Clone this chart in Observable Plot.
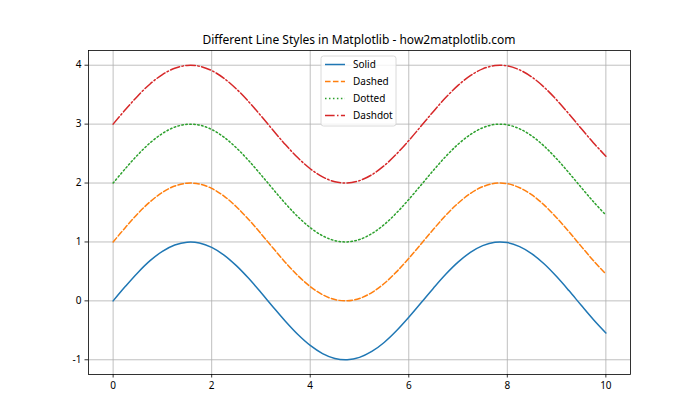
<!DOCTYPE html>
<html>
<head>
<meta charset="utf-8">
<script src="https://cdn.jsdelivr.net/npm/d3@7"></script>
<script src="https://cdn.jsdelivr.net/npm/@observablehq/plot@0.6"></script>
<style>
  html, body { margin: 0; padding: 0; background: #fff; }
  #chart { width: 700px; height: 420px; }
</style>
</head>
<body>
<div id="chart"></div>
<script>
// Data
const xs = [0, 0.25, 0.5, 0.75, 1, 1.25, 1.5, 1.75, 2, 2.25, 2.5, 2.75, 3, 3.25, 3.5, 3.75, 4, 4.25, 4.5, 4.75, 5,
            5.25, 5.5, 5.75, 6, 6.25, 6.5, 6.75, 7, 7.25, 7.5, 7.75, 8, 8.25, 8.5, 8.75, 9, 9.25, 9.5, 9.75, 10];
const solid   = [0.000, 0.247, 0.479, 0.682, 0.841, 0.949, 0.997, 0.984, 0.909, 0.778, 0.598, 0.382, 0.141, -0.108, -0.351, -0.572, -0.757, -0.895, -0.978, -0.999, -0.959,
                 -0.859, -0.706, -0.508, -0.279, -0.033, 0.215, 0.451, 0.657, 0.823, 0.938, 0.995, 0.989, 0.920, 0.798, 0.625, 0.412, 0.174, -0.075, -0.319, -0.544];
const dashed  = [1.000, 1.247, 1.479, 1.682, 1.841, 1.949, 1.997, 1.984, 1.909, 1.778, 1.598, 1.382, 1.141, 0.892, 0.649, 0.428, 0.243, 0.105, 0.022, 0.001, 0.041,
                 0.141, 0.294, 0.492, 0.721, 0.967, 1.215, 1.451, 1.657, 1.823, 1.938, 1.995, 1.989, 1.920, 1.798, 1.625, 1.412, 1.174, 0.925, 0.681, 0.456];
const dotted  = [2.000, 2.247, 2.479, 2.682, 2.841, 2.949, 2.997, 2.984, 2.909, 2.778, 2.598, 2.382, 2.141, 1.892, 1.649, 1.428, 1.243, 1.105, 1.022, 1.001, 1.041,
                 1.141, 1.294, 1.492, 1.721, 1.967, 2.215, 2.451, 2.657, 2.823, 2.938, 2.995, 2.989, 2.920, 2.798, 2.625, 2.412, 2.174, 1.925, 1.681, 1.456];
const dashdot = [3.000, 3.247, 3.479, 3.682, 3.841, 3.949, 3.997, 3.984, 3.909, 3.778, 3.598, 3.382, 3.141, 2.892, 2.649, 2.428, 2.243, 2.105, 2.022, 2.001, 2.041,
                 2.141, 2.294, 2.492, 2.721, 2.967, 3.215, 3.451, 3.657, 3.823, 3.938, 3.995, 3.989, 3.920, 3.798, 3.625, 3.412, 3.174, 2.925, 2.681, 2.456];
const seriesNames = ["Solid", "Dashed", "Dotted", "Dashdot"];
const seriesColors = ["#1f77b4", "#ff7f0e", "#2ca02c", "#d62728"];
const seriesDash = [null, "5.55,2.4", "1.5,2.475", "9.6,2.4,1.5,2.4"];
const xTicks = [0, 2, 4, 6, 8, 10];
const yTicks = [-1, 0, 1, 2, 3, 4];
const titleText = "Different Line Styles in Matplotlib - how2matplotlib.com";

const seriesValues = [solid, dashed, dotted, dashdot];
const FONT = "'Noto Sans', sans-serif";

const marginLeft = 88, marginRight = 70, marginTop = 50, marginBottom = 46;

const lineMarks = seriesValues.map((vals, i) =>
  Plot.line(xs.map((x, j) => ({x, y: vals[j]})), {
    x: "x", y: "y", stroke: seriesColors[i], strokeWidth: 1.5,
    strokeDasharray: seriesDash[i] || undefined, curve: "catmull-rom"
  })
);

const chart = Plot.plot({
  width: 700, height: 420,
  marginLeft, marginRight, marginTop, marginBottom,
  style: {fontFamily: FONT, fontSize: "10px", color: "#000", background: "#fff"},
  x: {domain: [-0.5, 10.5]},
  y: {domain: [-1.25, 4.25]},
  marks: [
    Plot.gridX(xTicks, {stroke: "#b0b0b0", strokeOpacity: 1, strokeWidth: 0.8}),
    Plot.gridY(yTicks, {stroke: "#b0b0b0", strokeOpacity: 1, strokeWidth: 0.8}),
    ...lineMarks,
    Plot.frame({stroke: "#000", strokeWidth: 0.8}),
    Plot.axisX(xTicks, {tickSize: 3.5, tickPadding: 3.5, stroke: "#000", strokeWidth: 0.8, label: null, fill: "#000", fontSize: 10}),
    Plot.axisY(yTicks, {tickSize: 3.5, tickPadding: 3.5, stroke: "#000", strokeWidth: 0.8, label: null, fill: "#000", fontSize: 10, tickFormat: d => d < 0 ? "-" + Math.abs(d) : String(d)})
  ]
});

document.getElementById("chart").appendChild(chart);

const svg = d3.select(chart);
// Title
svg.append("text")
  .attr("x", (marginLeft + 700 - marginRight) / 2)
  .attr("y", 44)
  .attr("text-anchor", "middle")
  .style("font-family", FONT)
  .style("font-size", "12px")
  .attr("fill", "#000")
  .text(titleText);

// Legend
const lg = svg.append("g").attr("text-anchor", "start");
lg.append("rect")
  .attr("x", 321).attr("y", 56).attr("width", 75).attr("height", 70)
  .attr("rx", 2.5).attr("fill", "#fff").attr("fill-opacity", 0.8)
  .attr("stroke", "#d0d0d0").attr("stroke-width", 0.8);
seriesNames.forEach((name, i) => {
  const y = 64.5 + i * 17;
  lg.append("line")
    .attr("x1", 325).attr("x2", 345).attr("y1", y).attr("y2", y)
    .attr("stroke", seriesColors[i]).attr("stroke-width", 1.5)
    .attr("stroke-dasharray", seriesDash[i]);
  lg.append("text")
    .attr("x", 353).attr("y", y).attr("dy", "0.35em")
    .attr("text-anchor", "start")
    .style("font-family", FONT).style("font-size", "10px")
    .attr("fill", "#000").text(name);
});
</script>
</body>
</html>
